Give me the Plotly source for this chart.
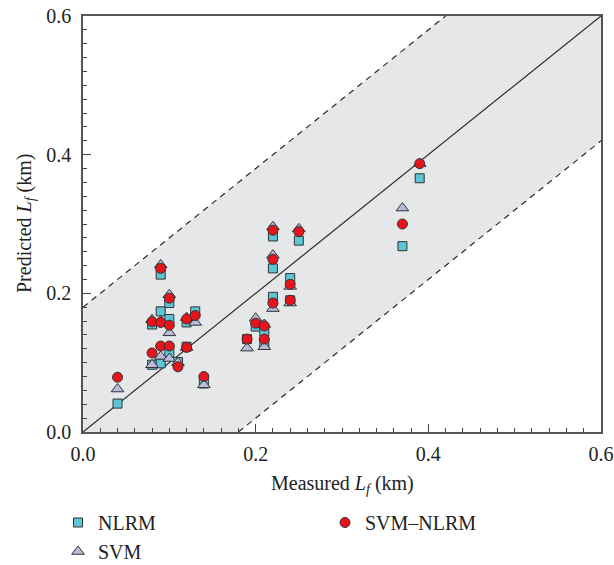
import plotly.graph_objects as go

# Measured Lf (km) per sample
measured = [0.04, 0.08, 0.08, 0.09, 0.09, 0.09, 0.10, 0.10, 0.10, 0.11, 0.12, 0.12, 0.13,
            0.14, 0.19, 0.20, 0.21, 0.21, 0.22, 0.22, 0.22, 0.24, 0.24, 0.25, 0.37, 0.39]
nlrm = [0.041, 0.155, 0.097, 0.227, 0.174, 0.099, 0.186, 0.163, 0.115, 0.101, 0.158, 0.123, 0.174,
        0.070, 0.134, 0.152, 0.145, 0.128, 0.282, 0.236, 0.195, 0.222, 0.190, 0.276, 0.268, 0.366]
svm = [0.062, 0.162, 0.097, 0.241, 0.160, 0.109, 0.198, 0.143, 0.106, 0.100, 0.165, 0.122, 0.158,
       0.068, 0.121, 0.164, 0.155, 0.123, 0.296, 0.255, 0.178, 0.210, 0.186, 0.293, 0.323, 0.387]
svm_nlrm = [0.079, 0.159, 0.114, 0.236, 0.158, 0.124, 0.193, 0.154, 0.124, 0.094, 0.163, 0.122, 0.168,
            0.080, 0.134, 0.157, 0.153, 0.134, 0.291, 0.249, 0.186, 0.213, 0.190, 0.289, 0.300, 0.387]

axis_range = [0.0, 0.6]
band = 0.18
tick_vals = [0.0, 0.2, 0.4, 0.6]

FONT = "Liberation Serif"
FS = 20
LINE = "#2b2b2b"

fig = go.Figure()

lo, hi = axis_range
# shaded band between y = x - band and y = x + band (clipped to the axis box)
band_x = [lo, lo, hi - band, hi, hi, lo + band, lo]
band_y = [lo, lo + band, hi, hi, hi - band, lo, lo]
fig.add_trace(go.Scatter(x=band_x, y=band_y, fill="toself", fillcolor="#e6e7e9",
                         line=dict(width=0), mode="lines", hoverinfo="skip", showlegend=False))
fig.add_trace(go.Scatter(x=[lo, hi - band], y=[lo + band, hi], mode="lines",
                         line=dict(color=LINE, width=1.2, dash="6px,5px"), showlegend=False))
fig.add_trace(go.Scatter(x=[lo + band, hi], y=[lo, hi - band], mode="lines",
                         line=dict(color=LINE, width=1.2, dash="6px,5px"), showlegend=False))
fig.add_trace(go.Scatter(x=[lo, hi], y=[lo, hi], mode="lines",
                         line=dict(color=LINE, width=1.2), showlegend=False))

mk_line = dict(color="#333333", width=1)
fig.add_trace(go.Scatter(x=measured, y=nlrm, mode="markers", name="NLRM",
                         marker=dict(symbol="square", size=9, color="#5cc6d6", line=mk_line),
                         legend="legend"))
fig.add_trace(go.Scatter(x=measured, y=svm, mode="markers", name="SVM",
                         marker=dict(symbol="triangle-up", size=11, color="#b9bcd8", line=mk_line),
                         legend="legend"))
fig.add_trace(go.Scatter(x=measured, y=svm_nlrm, mode="markers", name="SVM\u2013NLRM",
                         marker=dict(symbol="circle", size=10, color="#e8141c", line=mk_line),
                         legend="legend2"))

axis_common = dict(
    range=axis_range, tickvals=tick_vals, tickformat=".1f",
    ticks="inside", ticklen=8, tickwidth=1.2, tickcolor="#444",
    minor=dict(dtick=0.02, ticks="inside", ticklen=4, tickcolor="#444", tickwidth=1),
    showline=True, linecolor="#555", linewidth=1.5, mirror=True,
    showgrid=False, zeroline=False,
    tickfont=dict(family=FONT, size=FS, color="#222"),
)

leg_common = dict(xref="container", yref="container", xanchor="left", yanchor="top",
                  orientation="v", font=dict(family=FONT, size=FS, color="#222"),
                  bgcolor="rgba(0,0,0,0)", itemsizing="trace", tracegroupgap=0)

L, R, T, B = 83, 13, 16, 133
W, H = 614, 565
pw, ph = W - L - R, H - T - B

fig.update_layout(
    width=W, height=H,
    margin=dict(l=L, r=R, t=T, b=B, autoexpand=False),
    plot_bgcolor="white", paper_bgcolor="white",
    font=dict(family=FONT, color="#222"),
    xaxis=dict(**axis_common, ticklabelstandoff=3),
    yaxis=dict(**axis_common, ticklabelstandoff=6),
    legend=dict(x=58 / W, y=1 - 503 / H, **leg_common),
    legend2=dict(x=325 / W, y=1 - 503 / H, **leg_common),
    annotations=[
        dict(text="Measured <i>L</i><sub><i>f</i></sub> (km)", xref="paper", yref="paper",
             x=0.5, y=-(484 - (H - B)) / ph, xanchor="center", yanchor="middle",
             showarrow=False, font=dict(family=FONT, size=FS, color="#222")),
        dict(text="Predicted <i>L</i><sub><i>f</i></sub> (km)", xref="paper", yref="paper",
             x=-(L - 25) / pw, y=0.5, xanchor="center", yanchor="middle", textangle=-90,
             showarrow=False, font=dict(family=FONT, size=FS, color="#222")),
    ],
)

fig.write_html("out.html")
